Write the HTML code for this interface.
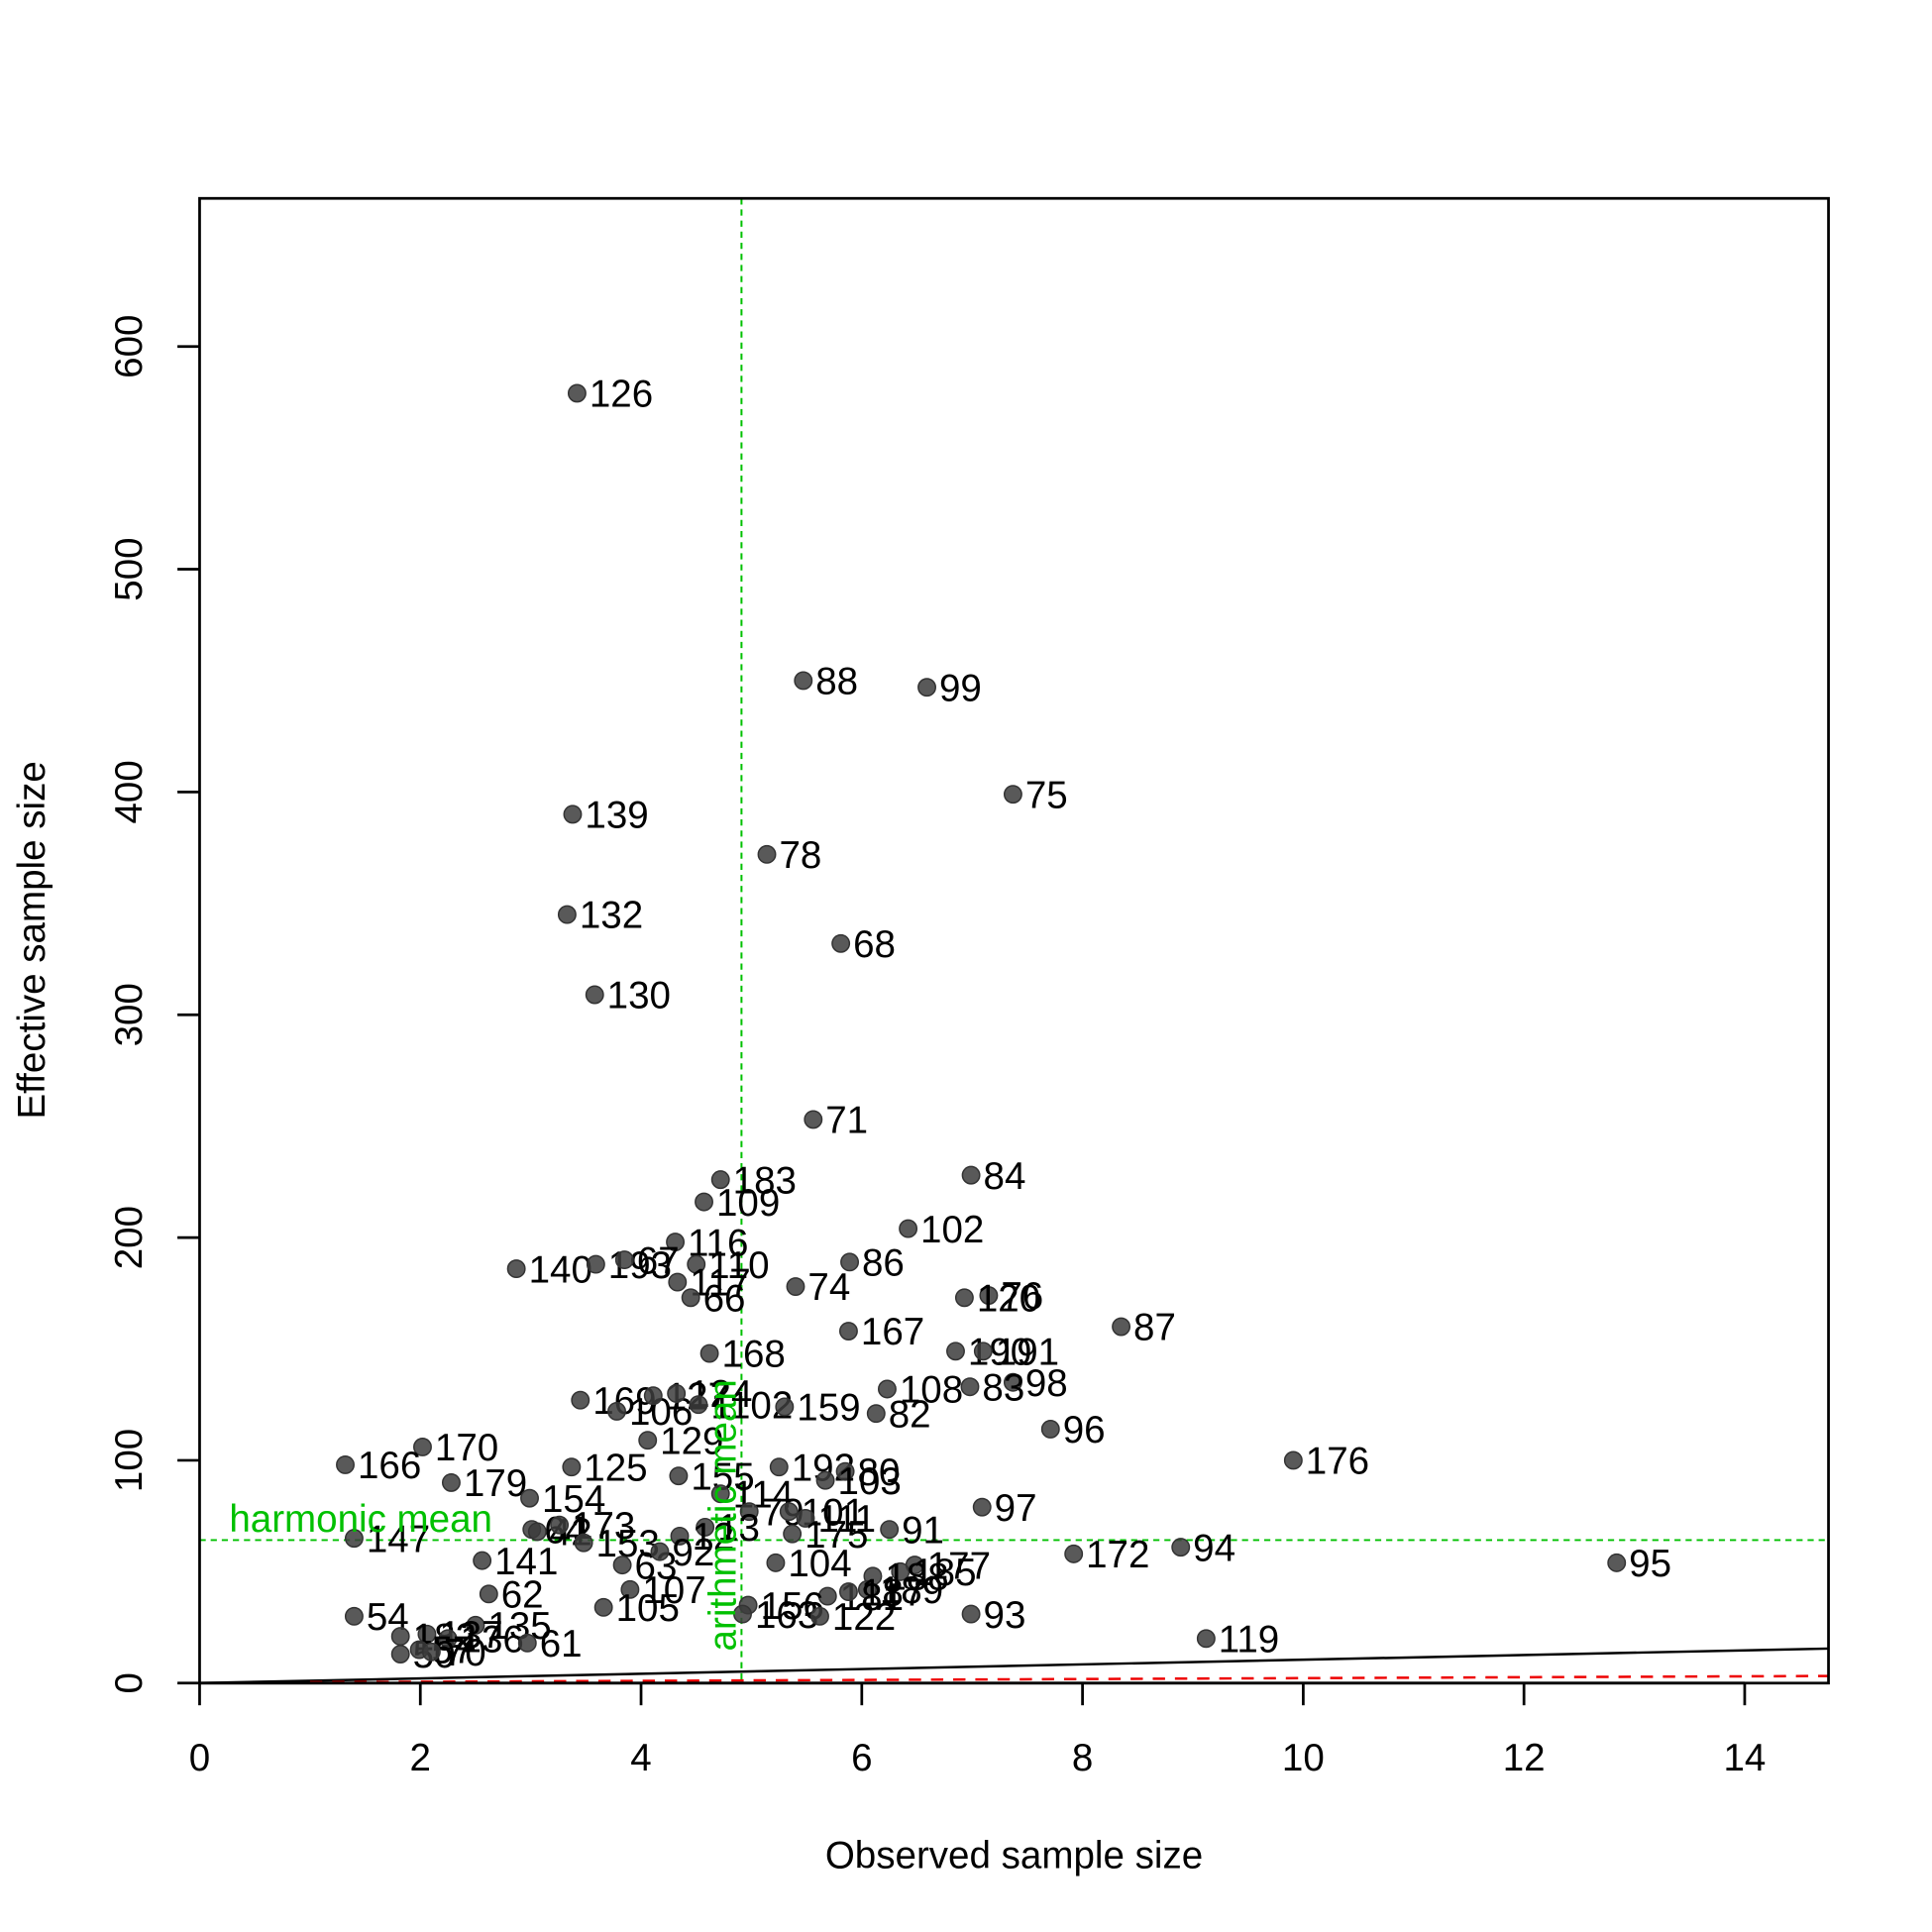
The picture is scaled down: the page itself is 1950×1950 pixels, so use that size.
<!DOCTYPE html>
<html><head><meta charset="utf-8"><style>
html,body{margin:0;padding:0;background:#fff}
svg{display:block}
text{font-family:"Liberation Sans",Arial,sans-serif}
</style></head><body>
<svg id="chart" width="1950" height="1950" viewBox="0 0 1568 1568" xmlns="http://www.w3.org/2000/svg">
<rect width="1568" height="1568" fill="#fff"/>
<g id="marks"></g>
<g id="axes"></g>
</svg>
<script>
const xTicks=[0,2,4,6,8,10,12,14];
const yTicks=[0,100,200,300,400,500,600];
const labels=["126","88","99","75","139","78","132","68","130","71","84","183","109","102","116","140","193","67","86","110","117","74","66","76","120","167","87","168","190","191","98","83","108","169","106","127","124","1102","159","82","96","129","170","166","176","125","155","192","80","103","179","154","114","97","79","101","111","147","64","42","173","153","91","175","13","12","94","172","95","141","104","177","185","188","189","63","92","62","107","181","187","105","156","163","122","93","54","135","137","182","136","61","119","50","57","70"];
const xs=[3.42,5.47,6.59,7.37,3.38,5.14,3.33,5.81,3.58,5.56,6.99,4.72,4.57,6.42,4.31,2.87,3.59,3.85,5.89,4.50,4.33,5.40,4.45,7.15,6.93,5.88,8.35,4.62,6.85,7.10,7.37,6.98,6.23,3.45,3.78,4.11,4.32,4.52,5.30,6.13,7.71,4.06,2.02,1.32,9.91,3.37,4.34,5.25,5.85,5.67,2.28,2.99,4.72,7.09,4.98,5.34,5.49,1.40,3.01,3.06,3.26,3.48,6.25,5.37,4.58,4.35,8.89,7.92,12.84,2.56,5.22,6.48,6.35,6.10,6.05,3.83,4.17,2.62,3.90,5.69,5.88,3.66,4.97,4.92,5.62,6.99,1.40,2.50,2.06,1.82,2.25,2.97,9.12,1.82,1.99,2.10];
const ys=[579,450,447,399,390,372,345,332,309,253,228,226,216,204,198,186,188,190,189,188,180,178,173,174,173,158,160,148,149,149,135,133,132,127,122,129,130,125,124,121,114,109,106,98,100,97,93,97,95,91,90,83,85,79,77,77,74,65,69,68,71,63,69,67,70,66,61,58,54,55,54,53,50,48,42,53,59,40,42,39,41,34,35,31,30,31,30,26,22,21,20,18,20,13,15,14];
const NS="http://www.w3.org/2000/svg";
const L=162,R=1484,T=161,B=1366;
const xS=v=>L+v*89.57;
const yS=v=>B-v*1.808;
const marks=document.getElementById('marks'),axes=document.getElementById('axes');
function mk(tag,attrs,parent,txt){const e=document.createElementNS(NS,tag);for(const k in attrs)e.setAttribute(k,attrs[k]);if(txt!==undefined)e.textContent=txt;parent.appendChild(e);return e;}
const rl=mk('line',{x1:xS(0),y1:yS(0),x2:R,y2:yS(15.5),stroke:'#000','stroke-width':2},marks);

const rd=mk('line',{x1:xS(1),y1:yS(0.4),x2:R,y2:yS(3.2),stroke:'#e00','stroke-width':2,'stroke-dasharray':'10,8'},marks);

const harm=64.2,arith=4.91;
const hl=mk('line',{x1:L,y1:yS(harm),x2:R,y2:yS(harm),stroke:'#00c000','stroke-width':1.6,'stroke-dasharray':'5,4'},marks);

const vl=mk('line',{x1:xS(arith),y1:T,x2:xS(arith),y2:B,stroke:'#00c000','stroke-width':1.6,'stroke-dasharray':'5,4'},marks);

for(let i=0;i<xs.length;i++){
 const c=mk('circle',{cx:xS(xs[i]),cy:yS(ys[i]),r:7,fill:'rgba(60,60,60,0.85)',stroke:'#333','stroke-width':1.2},marks);
 
 
 const t=mk('text',{x:xS(xs[i])+10,y:yS(ys[i])+11,'font-size':31,fill:'#000'},marks,labels[i]);
 
 
}
const ht=mk('text',{x:186,y:1243,'font-size':31,fill:'#00c000'},marks,'harmonic mean');

const at=mk('text',{x:0,y:0,'font-size':31,fill:'#00c000',transform:'translate(597,1340) rotate(-90)'},marks,'arithmetic mean');

const bx=mk('rect',{x:L,y:T,width:R-L,height:B-T,fill:'none',stroke:'#000','stroke-width':2.2},axes);

mk('line',{x1:xS(0),y1:B,x2:xS(14),y2:B,stroke:'#000','stroke-width':2.2},axes);
for(const v of xTicks){
 mk('line',{x1:xS(v),y1:B,x2:xS(v),y2:B+18,stroke:'#000','stroke-width':2.2},axes);
 const t=mk('text',{x:xS(v),y:1437,'font-size':31,'text-anchor':'middle'},axes,String(v));
 
}
for(const v of yTicks){
 mk('line',{x1:L,y1:yS(v),x2:L-18,y2:yS(v),stroke:'#000','stroke-width':2.2},axes);
 const t=mk('text',{x:0,y:0,'font-size':31,'text-anchor':'middle',transform:`translate(115,${yS(v)}) rotate(-90)`},axes,String(v));
 
}
const xt=mk('text',{x:823,y:1516,'font-size':31,'text-anchor':'middle'},axes,'Observed sample size');

const yt=mk('text',{x:0,y:0,'font-size':31,'text-anchor':'middle',transform:'translate(36,763) rotate(-90)'},axes,'Effective sample size');

</script>
</body></html>
